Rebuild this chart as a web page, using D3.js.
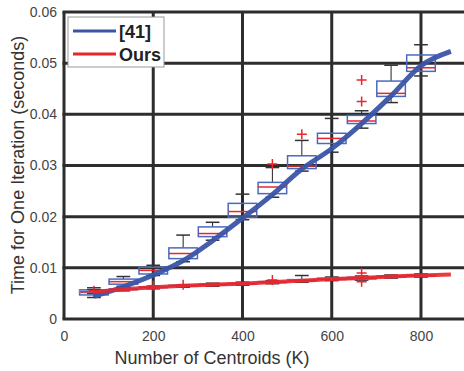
<!DOCTYPE html>
<html>
<head>
<meta charset="utf-8">
<script src="https://cdn.jsdelivr.net/npm/d3@7"></script>
<style>
  body { margin: 0; background: #fff; }
  svg { font-family: "Liberation Sans", Arial, sans-serif; display: block; }
</style>
</head>
<body>
<svg id="chart"></svg>
<script>
// box plot positions (number of centroids)
const kVals = [67, 133, 200, 267, 333, 400, 467, 533, 600, 667, 733, 800];

// [41] box stats
const refLo  = [0.0042, 0.0064, 0.0085, 0.0112, 0.0154, 0.0194, 0.0238, 0.0289, 0.0326, 0.0373, 0.0423, 0.0475];
const refQ1  = [0.0047, 0.0068, 0.0088, 0.0118, 0.0161, 0.0199, 0.0245, 0.0294, 0.0343, 0.0382, 0.0435, 0.0484];
const refMed = [0.0052, 0.0073, 0.0095, 0.0128, 0.0167, 0.0210, 0.0258, 0.0299, 0.0353, 0.0387, 0.0441, 0.0491];
const refQ3  = [0.0057, 0.0078, 0.0101, 0.0139, 0.0180, 0.0226, 0.0267, 0.0319, 0.0363, 0.0398, 0.0465, 0.0516];
const refHi  = [0.0061, 0.0083, 0.0105, 0.0164, 0.0189, 0.0244, 0.0296, 0.0349, 0.0392, 0.0407, 0.0496, 0.0536];
const refOut = [[], [], [], [], [], [], [0.0303], [0.0361], [], [0.0425, 0.0467], [], []];

// Ours box stats
const ourLo  = [0.0050, 0.0055, 0.0059, 0.0062, 0.0064, 0.0066, 0.0069, 0.0072, 0.0075, 0.0076, 0.0080, 0.0082];
const ourQ1  = [0.0052, 0.0057, 0.0061, 0.0064, 0.0066, 0.0068, 0.0071, 0.0074, 0.0077, 0.0078, 0.0082, 0.0084];
const ourMed = [0.0053, 0.0058, 0.0062, 0.0065, 0.0067, 0.0069, 0.0072, 0.0075, 0.0078, 0.0080, 0.0083, 0.0085];
const ourQ3  = [0.0055, 0.0059, 0.0063, 0.0066, 0.0068, 0.0070, 0.0073, 0.0077, 0.0080, 0.0082, 0.0084, 0.0086];
const ourHi  = [0.0057, 0.0061, 0.0064, 0.0067, 0.0070, 0.0072, 0.0075, 0.0085, 0.0082, 0.0084, 0.0086, 0.0088];
const ourOut = [[0.0055], [], [0.0065], [0.0067], [], [], [0.0076], [], [], [0.0090, 0.0073], [], []];

// fitted curves
const lineK   = [67, 133, 200, 267, 333, 400, 467, 533, 600, 667, 733, 800, 867];
const refLine = [0.0044, 0.0063, 0.0086, 0.0114, 0.0153, 0.0197, 0.0243, 0.0293, 0.0333, 0.0382, 0.0436, 0.0495, 0.0523];
const ourLine = [0.0053, 0.0058, 0.0062, 0.0065, 0.0067, 0.0069, 0.0072, 0.0075, 0.0078, 0.0080, 0.0083, 0.0085, 0.0087];

const xTicks = [0, 200, 400, 600, 800];
const yTicks = [0, 0.01, 0.02, 0.03, 0.04, 0.05, 0.06];

const width = 464, height = 371;
const svg = d3.select("#chart").attr("width", width).attr("height", height);

const x = d3.scaleLinear().domain([0, 900]).range([64, 465.6]);
const y = d3.scaleLinear().domain([0, 0.06]).range([319, 12]);

const gridColor = "#2d2d2d";

// grid lines
svg.append("g").selectAll("line").data(xTicks).enter().append("line")
    .attr("x1", d => x(d)).attr("x2", d => x(d))
    .attr("y1", y(0.06)).attr("y2", y(0))
    .attr("stroke", gridColor).attr("stroke-width", 3);
svg.append("g").selectAll("line").data(yTicks).enter().append("line")
    .attr("x1", x(0) - 1.5).attr("x2", x(900))
    .attr("y1", d => y(d)).attr("y2", d => y(d))
    .attr("stroke", gridColor).attr("stroke-width", 3);

// axes labels
const xAxis = svg.append("g")
    .attr("transform", `translate(0, ${y(0)})`)
    .call(d3.axisBottom(x).tickValues(xTicks).tickSize(0).tickPadding(12));
const yAxis = svg.append("g")
    .attr("transform", `translate(${x(0) - 2}, 0)`)
    .call(d3.axisLeft(y).tickValues(yTicks).tickSize(0).tickPadding(5)
        .tickFormat(d => d === 0 ? "0" : d3.format(".2f")(d)));
[xAxis, yAxis].forEach(a => {
    a.select(".domain").remove();
    a.selectAll("text").attr("font-size", 14).attr("fill", "#444")
        .attr("font-family", "Liberation Sans, Arial, sans-serif");
});

svg.append("text")
    .attr("x", 212).attr("y", 364)
    .attr("text-anchor", "middle")
    .attr("font-size", 18).attr("fill", "#333")
    .text("Number of Centroids (K)");
svg.append("text")
    .attr("transform", "translate(24,165) rotate(-90)")
    .attr("text-anchor", "middle")
    .attr("font-size", 18).attr("fill", "#333")
    .text("Time for One Iteration (seconds)");

// box plots
const boxW = (x(kVals[1]) - x(kVals[0])) * 0.97;
const capW = boxW * 0.48;

function drawBoxes(lo, q1, med, q3, hi, out, boxColor) {
    const g = svg.append("g");
    const rows = kVals.map((k, i) => ({ k, lo: lo[i], q1: q1[i], med: med[i], q3: q3[i], hi: hi[i], out: out[i] }));
    const b = g.selectAll("g").data(rows).enter().append("g");
    b.append("line") // upper whisker
        .attr("x1", d => x(d.k)).attr("x2", d => x(d.k))
        .attr("y1", d => y(d.q3)).attr("y2", d => y(d.hi))
        .attr("stroke", "#222").attr("stroke-width", 1);
    b.append("line") // lower whisker
        .attr("x1", d => x(d.k)).attr("x2", d => x(d.k))
        .attr("y1", d => y(d.q1)).attr("y2", d => y(d.lo))
        .attr("stroke", "#222").attr("stroke-width", 1);
    b.append("line")
        .attr("x1", d => x(d.k) - capW / 2).attr("x2", d => x(d.k) + capW / 2)
        .attr("y1", d => y(d.hi)).attr("y2", d => y(d.hi))
        .attr("stroke", "#333").attr("stroke-width", 1.5);
    b.append("line")
        .attr("x1", d => x(d.k) - capW / 2).attr("x2", d => x(d.k) + capW / 2)
        .attr("y1", d => y(d.lo)).attr("y2", d => y(d.lo))
        .attr("stroke", "#333").attr("stroke-width", 1.5);
    b.append("rect")
        .attr("x", d => x(d.k) - boxW / 2).attr("width", boxW)
        .attr("y", d => y(d.q3)).attr("height", d => y(d.q1) - y(d.q3))
        .attr("fill", "none").attr("stroke", boxColor).attr("stroke-width", 1.5);
    b.append("line")
        .attr("x1", d => x(d.k) - boxW / 2).attr("x2", d => x(d.k) + boxW / 2)
        .attr("y1", d => y(d.med)).attr("y2", d => y(d.med))
        .attr("stroke", "#e8262c").attr("stroke-width", 1.5);
    // outliers
    b.selectAll("path.out").data(d => d.out.map(v => ({ k: d.k, v }))).enter()
        .append("path").attr("class", "out")
        .attr("d", d => `M${x(d.k) - 5},${y(d.v)}h10M${x(d.k)},${y(d.v) - 5}v10`)
        .attr("stroke", "#e8262c").attr("stroke-width", 1.5);
}

drawBoxes(refLo, refQ1, refMed, refQ3, refHi, refOut, "#4a6ac0");
drawBoxes(ourLo, ourQ1, ourMed, ourQ3, ourHi, ourOut, "#7b8fd0");

// curves
const line = d3.line().curve(d3.curveMonotoneX).x(d => x(d[0])).y(d => y(d[1]));
svg.append("path")
    .datum(lineK.map((k, i) => [k, refLine[i]]))
    .attr("fill", "none").attr("stroke", "#3a55a8").attr("stroke-width", 5)
    .attr("stroke-opacity", 0.95).attr("d", line);
svg.append("path")
    .datum(lineK.map((k, i) => [k, ourLine[i]]))
    .attr("fill", "none").attr("stroke", "#e8262c").attr("stroke-width", 4)
    .attr("stroke-opacity", 0.9).attr("d", line);

// legend
const legend = svg.append("g");
legend.append("rect")
    .attr("x", 68).attr("y", 17).attr("width", 96).attr("height", 50)
    .attr("fill", "#fff").attr("stroke", "#999").attr("stroke-width", 1);
const legendItems = [
    { name: "[41]", color: "#3a55a8" },
    { name: "Ours", color: "#e8262c" }
];
legendItems.forEach((d, i) => {
    const cy = 31 + i * 23;
    legend.append("line")
        .attr("x1", 73).attr("x2", 116).attr("y1", cy).attr("y2", cy)
        .attr("stroke", d.color).attr("stroke-width", 3);
    legend.append("text")
        .attr("x", 119).attr("y", cy + 6.5)
        .attr("font-size", 18).attr("font-weight", "bold").attr("fill", "#222")
        .text(d.name);
});
</script>
</body>
</html>
